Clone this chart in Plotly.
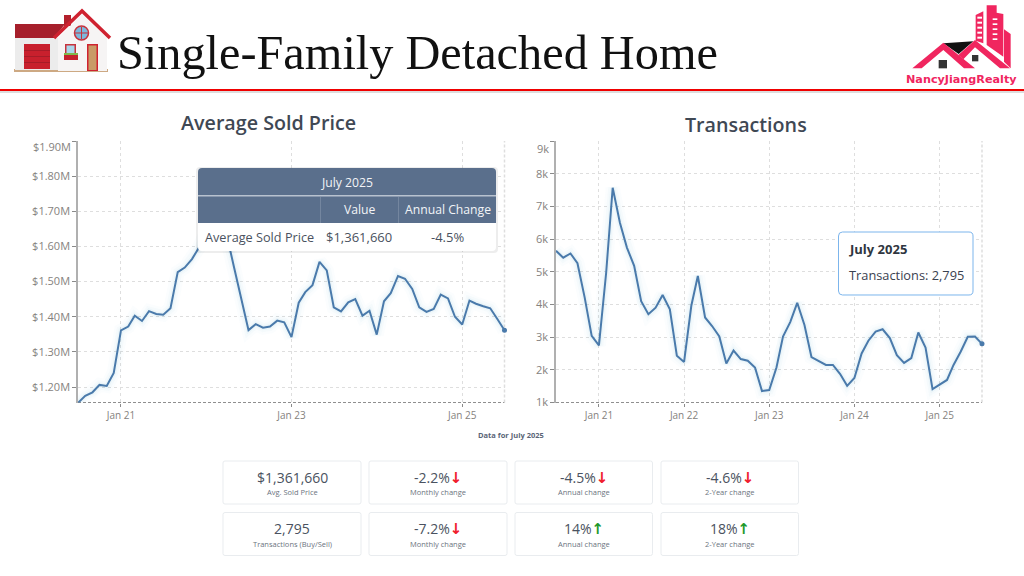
import pandas as pd
import plotly.graph_objects as go

W, H = 1024, 576
FONT = "Open Sans"
LINE_COLOR = "#4a7aab"
GRID_COLOR = "#dedede"
TEXT_COLOR = "#4a5260"
TICK_COLOR = "#85827e"

months = pd.date_range("2020-07-01", periods=61, freq="MS")

# Jan 22 - Mar 22 sit behind the tooltip in the original, those are guesses
avg_price = [1155000, 1175000, 1185000, 1206000, 1203000, 1240000, 1361000, 1372000,
             1403000, 1388000, 1416000, 1408000, 1406000, 1424000, 1527000, 1540000,
             1564000, 1597000, 1640000, 1690000, 1700000, 1626000, 1538000, 1450000,
             1362000, 1379000, 1369000, 1372000, 1389000, 1384000, 1342000, 1440000,
             1470000, 1490000, 1556000, 1532000, 1427000, 1415000, 1441000, 1450000,
             1403000, 1417000, 1349000, 1444000, 1467000, 1516000, 1508000, 1479000,
             1427000, 1414000, 1422000, 1463000, 1452000, 1400000, 1378000, 1446000,
             1437000, 1430000, 1424000, 1393000, 1361660]
transactions = [5640, 5430, 5560, 5260, 4210, 3040, 2750, 4970, 7570, 6500, 5740, 5180,
                4100, 3700, 3900, 4290, 3850, 2430, 2240, 3960, 4870, 3600, 3340, 3020,
                2190, 2590, 2330, 2280, 2070, 1350, 1380, 2070, 3020, 3460, 4050, 3370,
                2390, 2280, 2150, 2150, 1870, 1510, 1750, 2500, 2890, 3170, 3240, 2970,
                2450, 2210, 2360, 3140, 2680, 1410, 1560, 1690, 2150, 2560, 3010, 3020,
                2795]

price_ticks = [1200000, 1300000, 1400000, 1500000, 1600000, 1700000, 1800000, 1900000]
price_labels = ["$1.20M", "$1.30M", "$1.40M", "$1.50M", "$1.60M", "$1.70M", "$1.80M", ""]
trans_ticks = [1000, 2000, 3000, 4000, 5000, 6000, 7000, 8000, 9000]
trans_labels = ["1k", "2k", "3k", "4k", "5k", "6k", "7k", "8k", ""]
price_dates = ["2021-01-01", "2023-01-01", "2025-01-01"]
price_date_labels = ["Jan 21", "Jan 23", "Jan 25"]
trans_dates = ["2021-01-01", "2022-01-01", "2023-01-01", "2024-01-01", "2025-01-01"]
trans_date_labels = ["Jan 21", "Jan 22", "Jan 23", "Jan 24", "Jan 25"]

card_values = [["$1,361,660", "-2.2%", "-4.5%", "-4.6%"], ["2,795", "-7.2%", "14%", "18%"]]
card_labels = [["Avg. Sold Price", "Monthly change", "Annual change", "2-Year change"],
               ["Transactions (Buy/Sell)", "Monthly change", "Annual change", "2-Year change"]]
card_arrows = [["", "down", "down", "down"], ["", "down", "up", "up"]]


def px(x, y):
    return x / W, 1 - y / H


def path(points, close=True):
    parts = []
    for i, (x, y) in enumerate(points):
        a, b = px(x, y)
        parts.append(f"{'M' if i == 0 else 'L'}{a:.5f},{b:.5f}")
    return " ".join(parts) + (" Z" if close else "")


def round_box(x0, y0, x1, y1, r, top=True, bottom=True):
    # rounded rectangle as a path, arcs are not allowed in plotly shapes
    def pt(x, y):
        a, b = px(x, y)
        return f"{a:.5f},{b:.5f}"
    rt = r if top else 0
    rb = r if bottom else 0
    return (f"M{pt(x0 + rt, y0)} L{pt(x1 - rt, y0)} Q{pt(x1, y0)} {pt(x1, y0 + rt)} "
            f"L{pt(x1, y1 - rb)} Q{pt(x1, y1)} {pt(x1 - rb, y1)} "
            f"L{pt(x0 + rb, y1)} Q{pt(x0, y1)} {pt(x0, y1 - rb)} "
            f"L{pt(x0, y0 + rt)} Q{pt(x0, y0)} {pt(x0 + rt, y0)} Z")


shapes = []
notes = []


def poly(points, color):
    shapes.append(dict(type="path", xref="paper", yref="paper", path=path(points),
                       fillcolor=color, line_width=0))


def stroke(points, color, width):
    shapes.append(dict(type="path", xref="paper", yref="paper", path=path(points, close=False),
                       line=dict(color=color, width=width)))


def box(x0, y0, x1, y1, color):
    poly([(x0, y0), (x1, y0), (x1, y1), (x0, y1)], color)


def note(text, x, y, size, color=TEXT_COLOR, anchor="center", family=FONT, weight=None):
    a, b = px(x, y)
    font = dict(family=family, size=size, color=color)
    if weight:
        font["weight"] = weight
    notes.append(dict(text=text, x=a, y=b, xref="paper", yref="paper", showarrow=False,
                      xanchor=anchor, yanchor="middle", font=font, borderpad=0))


def draw_house():
    box(14, 69, 108, 72, "#cda983")
    box(15, 38, 58, 70, "#ececec")
    poly([(15, 24), (65, 24), (54, 38), (15, 38)], "#a61f2b")
    box(64, 15, 71, 26, "#b3202c")
    poly([(58, 38), (82, 14), (107, 38), (107, 71), (58, 71)], "#f6f4f4")
    stroke([(54, 38), (82, 11), (110, 38)], "#cf2230", 3.5)
    box(24, 44, 50, 69, "#c8202d")
    for y in (50, 56, 62):
        box(24, y, 50, y + 1, "#a61c28")
    shapes.append(dict(type="circle", xref="paper", yref="paper",
                       x0=74.5 / W, x1=88.5 / W, y0=1 - 40 / H, y1=1 - 26 / H,
                       fillcolor="#7cb8dc", line=dict(color="#c8323c", width=1.5)))
    stroke([(81.5, 27), (81.5, 39)], "#c8323c", 1)
    stroke([(75, 33), (88, 33)], "#c8323c", 1)
    box(65, 44, 76, 55, "#c8323c")
    box(66.5, 45.5, 74.5, 53, "#a9d6ea")
    box(64, 53, 78, 55, "#7fb84a")
    box(64, 55, 78, 60, "#c4202c")
    box(87, 44, 98, 71, "#cf2230")
    box(88.5, 45.5, 96.5, 70, "#c99a66")


def draw_logo():
    pink = "#f0265f"
    ox, oy = 860, 0
    s = 1 / 3

    def z(pts):
        return [(ox + a * s, oy + b * s) for a, b in pts]
    poly(z([(347, 45), (370, 34), (370, 130), (347, 122)]), pink)
    poly(z([(380, 16), (410, 16), (410, 38), (430, 42), (430, 170), (380, 135)]), pink)
    poly(z([(432, 88), (452, 102), (452, 205), (432, 185)]), pink)
    for y in range(50, 125, 15):
        box(ox + 352 * s, y * s, ox + 366 * s, (y + 6) * s, "#ffffff")
        box(ox + 398 * s, (y + 5) * s, ox + 412 * s, (y + 10) * s, "#ffffff")
    poly(z([(250, 130), (340, 124), (296, 162)]), "#111111")
    poly(z([(157, 205), (250, 128), (345, 205), (312, 205), (250, 150), (185, 205)]), pink)
    poly(z([(295, 165), (345, 120), (450, 205), (420, 205), (345, 142), (310, 178)]), pink)
    box(ox + 236 * s, 180 * s, ox + 261 * s, 205 * s, "#333333")
    box(ox + 336 * s, 165 * s, ox + 355 * s, 184 * s, "#333333")
    note("NancyJiangRealty", 961, 80, 11.2, pink, family="DejaVu Sans", weight=700)


def add_series(fig, x, y, xaxis, yaxis, name):
    # soft glow under the line like the drop shadow in the original
    for width, alpha in ((14, 0.025), (9, 0.04), (5, 0.06)):
        fig.add_trace(go.Scatter(x=x, y=y, xaxis=xaxis, yaxis=yaxis, mode="lines", hoverinfo="skip",
                                 line=dict(color=f"rgba(90,170,210,{alpha})", width=width)))
    fig.add_trace(go.Scatter(x=x, y=y, xaxis=xaxis, yaxis=yaxis, mode="lines", name=name,
                             line=dict(color=LINE_COLOR, width=2)))
    fig.add_trace(go.Scatter(x=[x[-1]], y=[y[-1]], xaxis=xaxis, yaxis=yaxis, mode="markers",
                             marker=dict(color=LINE_COLOR, size=5), cliponaxis=False))


fig = go.Figure()
add_series(fig, months, avg_price, "x", "y", "Average Sold Price")
add_series(fig, months, transactions, "x2", "y2", "Transactions")

x_style = dict(showgrid=True, gridcolor=GRID_COLOR, griddash="3px,3px", gridwidth=1, ticks="outside",
               ticklen=3, tickcolor="#8a8a8a", showline=False, zeroline=False,
               tickfont=dict(family=FONT, size=10, color=TICK_COLOR))
y_style = dict(showgrid=True, gridcolor=GRID_COLOR, griddash="3px,3px", gridwidth=1, ticks="outside",
               ticklen=4, tickcolor="#8a8a8a", showline=True, linecolor="#b0b0b0", linewidth=1.5,
               zeroline=False, tickfont=dict(family=FONT, size=11, color=TICK_COLOR))

top, bottom = 1 - 402.5 / H, 1 - 141 / H
plot_range = [months[0], months[-1]]

fig.update_layout(
    width=W, height=H, margin=dict(l=0, r=0, t=0, b=0, autoexpand=False), showlegend=False,
    paper_bgcolor="white", plot_bgcolor="white",
    xaxis=dict(domain=[78 / W, 504.5 / W], range=plot_range, tickvals=price_dates,
               ticktext=price_date_labels, anchor="y", **x_style),
    yaxis=dict(domain=[top, bottom], range=[1156000, 1900000], tickvals=price_ticks,
               ticktext=price_labels, anchor="x", **y_style),
    xaxis2=dict(domain=[556 / W, 982 / W], range=plot_range, tickvals=trans_dates,
                ticktext=trans_date_labels, anchor="y2", **x_style),
    yaxis2=dict(domain=[top, bottom], range=[1000, 9000], tickvals=trans_ticks,
                ticktext=trans_labels, anchor="x2", **y_style),
)

# dashed frame lines on the bottom and right of each plot
for xname, yname in (("x", "y"), ("x2", "y2")):
    shapes.append(dict(type="line", xref=f"{xname} domain", yref=f"{yname} domain", x0=0, x1=1, y0=0, y1=0,
                       layer="below", line=dict(color="#8f8f8f", width=1, dash="3px,2px")))
    shapes.append(dict(type="line", xref=f"{xname} domain", yref=f"{yname} domain", x0=1, x1=1, y0=0, y1=1,
                       layer="below", line=dict(color=GRID_COLOR, width=1.5, dash="3px,2px")))

# header
shapes.append(dict(type="rect", xref="paper", yref="paper", x0=0, x1=1, y0=1 - 93 / H, y1=1 - 91 / H,
                   fillcolor="#dddddd", line_width=0))
shapes.append(dict(type="rect", xref="paper", yref="paper", x0=0, x1=1, y0=1 - 91 / H, y1=1 - 89 / H,
                   fillcolor="#f00000", line_width=0))
draw_house()
draw_logo()
note("Single-Family Detached Home", 116, 52, 48.3, "#111111", anchor="left", family="Liberation Serif")

# chart titles
note("Average Sold Price", 268, 123, 19.7, "#3f4854", weight=600)
note("Transactions", 746, 124, 19.7, "#3f4854", weight=600)
note("$1.90M", 72, 147, 11, TICK_COLOR, anchor="right")
note("9k", 550, 148, 11, TICK_COLOR, anchor="right")

# left tooltip, drawn as a small table
shapes.append(dict(type="path", xref="paper", yref="paper", path=round_box(196, 167, 498, 253, 4),
                   fillcolor="rgba(0,0,0,0.07)", line_width=0))
shapes.append(dict(type="path", xref="paper", yref="paper", path=round_box(198, 168, 496, 251, 4),
                   fillcolor="white", line_width=0))
shapes.append(dict(type="path", xref="paper", yref="paper", path=round_box(198, 168, 496, 223, 4, bottom=False),
                   fillcolor="#5a6f8c", line_width=0))
box(198, 195, 496, 196.5, "#b8c2cf")
box(320.2, 197, 320.8, 223, "#8797ac")
box(398.2, 197, 398.8, 223, "#8797ac")
note("July 2025", 347, 182, 12.2, "#f2f4f7")
note("Value", 359.5, 210, 12.2, "#f2f4f7")
note("Annual Change", 448, 210, 12.2, "#f2f4f7")
note("Average Sold Price", 204, 237, 12.7, TEXT_COLOR, anchor="left")
note("$1,361,660", 359, 237, 13, TEXT_COLOR)
note("-4.5%", 447, 237, 13, TEXT_COLOR)

# right tooltip
shapes.append(dict(type="path", xref="paper", yref="paper", path=round_box(838.5, 232, 973, 295, 4),
                   fillcolor="white", line=dict(color="#7cb5ec", width=1)))
note("July 2025", 848, 249, 13, "#2f3640", anchor="left", weight=700)
note("Transactions: 2,795", 848, 275, 12.8, "#3a4250", anchor="left")

note("Data for July 2025", 511, 435, 7.5, "#5a6577", weight=700)

# KPI cards
ARROW = '<span style="color:{};font-size:15px;font-family:DejaVu Sans"><b>{}</b></span>'
card_x = [(223, 361), (369, 507), (515, 652.5), (661, 798.5)]
card_y = [(461, 504), (512.5, 555.5)]
for r, (y0, y1) in enumerate(card_y):
    for c, (x0, x1) in enumerate(card_x):
        shapes.append(dict(type="path", xref="paper", yref="paper", path=round_box(x0, y0, x1, y1, 2),
                           fillcolor="white", line=dict(color="#e9ecef", width=1)))
        text = card_values[r][c]
        if card_arrows[r][c] == "down":
            text += ARROW.format("#f0202c", "↓")
        elif card_arrows[r][c] == "up":
            text += ARROW.format("#1f9a2c", "↑")
        note(text, (x0 + x1) / 2, y0 + 16, 14, TEXT_COLOR)
        note(card_labels[r][c], (x0 + x1) / 2, y0 + 31, 7.5, "#6c7480")

fig.update_layout(shapes=shapes, annotations=notes)
fig.write_html("out.html", config={"displayModeBar": False}, default_width=W, default_height=H,
               post_script="document.body.style.margin='0';")
